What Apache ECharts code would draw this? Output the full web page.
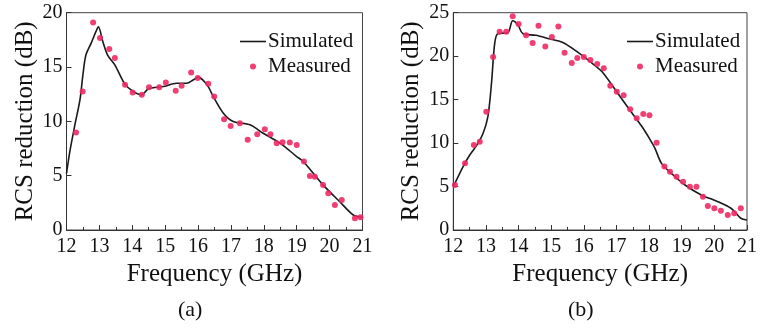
<!DOCTYPE html>
<html><head><meta charset="utf-8">
<script src="https://cdn.jsdelivr.net/npm/echarts@6/dist/echarts.min.js"></script>
<style>html,body{margin:0;padding:0;background:#fff}#c{width:760px;height:329px}</style>
</head><body><div id="c"></div>
<script>
// Panel (a)
const freqSimA = [12.0,12.1,12.25,12.41,12.5,12.59,12.75,12.9,12.97,13.1,13.25,13.47,13.78,14.03,14.29,14.49,14.94,15.35,15.65,15.85,16.0,16.15,16.31,16.46,16.77,17.07,17.58,17.98,18.49,19.0,19.2,19.8,20.31,20.72,21.0];
const simA     = [5.2,7.2,9.6,12.0,14.3,16.1,17.2,18.3,18.7,17.4,16.1,15.2,13.4,12.75,12.44,13.0,13.2,13.5,13.5,13.8,14.07,13.8,13.2,12.3,10.75,9.98,9.68,8.9,8.0,6.76,6.3,4.15,2.6,1.38,1.17];
const freqMeasA = [12.29,12.49,12.81,13.02,13.30,13.47,13.78,14.01,14.29,14.51,14.82,15.02,15.32,15.5,15.79,15.99,16.31,16.49,16.79,16.99,17.27,17.51,17.8,18.03,18.2,18.39,18.57,18.79,19.0,19.22,19.4,19.55,19.8,19.96,20.16,20.37,20.77,20.94];
const measA     = [8.97,12.75,19.1,17.67,16.65,15.82,13.36,12.66,12.44,13.15,13.15,13.58,12.81,13.27,14.5,14.0,13.46,12.29,10.2,9.58,9.83,8.3,8.82,9.28,8.82,7.99,8.08,8.05,7.83,6.3,4.98,4.9,4.15,3.38,2.3,2.76,1.08,1.17];
// Panel (b)
const freqSimB = [12.0,12.3,12.5,12.71,12.91,13.06,13.17,13.27,13.37,13.67,13.82,13.98,14.13,14.53,14.94,15.34,15.8,16.25,16.56,16.97,17.37,17.78,18.03,18.18,18.38,18.74,19.1,19.6,20.11,20.51,20.81,21.0];
const simB     = [4.98,7.3,8.6,9.7,11.1,13.04,16.88,21.5,22.6,22.7,24.07,23.6,22.6,22.4,22.0,21.6,20.5,19.2,18.2,16.1,14.0,11.9,10.4,9.4,7.67,6.33,5.18,4.03,3.26,2.5,1.35,1.15];
const freqMeasB = [12.05,12.36,12.63,12.81,13.01,13.22,13.42,13.62,13.82,14.0,14.23,14.43,14.61,14.82,15.02,15.22,15.41,15.63,15.8,16.0,16.2,16.41,16.61,16.81,17.01,17.22,17.42,17.62,17.82,18.01,18.23,18.47,18.64,18.84,19.04,19.25,19.45,19.65,19.8,20.0,20.2,20.41,20.61,20.81];
const measB     = [5.18,7.67,9.78,10.16,13.6,19.9,22.8,22.8,24.6,23.7,22.4,21.5,23.5,21.1,22.2,23.4,20.4,19.2,19.8,19.9,19.55,19.1,18.6,16.6,15.9,15.5,13.9,12.85,13.35,13.2,10.05,7.3,6.7,6.13,5.56,4.98,4.98,3.83,2.76,2.5,2.22,1.73,1.92,2.5];

const xTicks = [12,13,14,15,16,17,18,19,20,21];
const yMaxA = 20, yMaxB = 25;
const xTitle = 'Frequency (GHz)';
const yTitle = 'RCS reduction (dB)';
const panelLabels = ['(a)','(b)'];
const legendNames = ['Simulated','Measured'];

const FONT = "'Liberation Serif','Times New Roman',serif";
const pairs = (xs, ys) => xs.map((x,i)=>[x, ys[i]]);
const lineColor = '#1a1a1a', dotColor = '#ee2b64';
const LINE_ICON = 'path://M0,0L26,0L26,1.6L0,1.6Z';

function xAxis(idx){
  return {
    gridIndex: idx, type:'value', min:xTicks[0], max:xTicks[xTicks.length-1], interval:1,
    axisLine:{show:true, lineStyle:{color:'#333', width:1}},
    axisTick:{show:true, inside:true, length:5, lineStyle:{color:'#333'}},
    minorTick:{show:true, splitNumber:2, length:3, lineStyle:{color:'#333'}},
    splitLine:{show:false},
    axisLabel:{color:'#111', fontFamily:FONT, fontSize:20, margin:7},
    name:xTitle, nameLocation:'middle', nameGap:27,
    nameTextStyle:{color:'#111', fontFamily:FONT, fontSize:25, verticalAlign:'top'}
  };
}
function yAxis(idx, max){
  return {
    gridIndex: idx, type:'value', min:0, max:max, interval:5,
    axisLine:{show:true, lineStyle:{color:'#333', width:1}},
    axisTick:{show:true, inside:true, length:5, lineStyle:{color:'#333'}},
    minorTick:{show:false},
    splitLine:{show:false},
    axisLabel:{color:'#111', fontFamily:FONT, fontSize:20, margin:4},
    name:yTitle, nameLocation:'middle', nameGap:29,
    nameTextStyle:{color:'#111', fontFamily:FONT, fontSize:25}
  };
}
function legend(left, suffix){
  return {left:left, top:31, orient:'vertical', itemWidth:26, itemHeight:6, itemGap:4, padding:0,
    symbolKeepAspect:true,
    textStyle:{fontFamily:FONT, fontSize:21, color:'#111', padding:[0,0,0,-3]},
    data:[{name:legendNames[0]+suffix, icon:LINE_ICON}, {name:legendNames[1]+suffix, icon:'circle'}],
    formatter: n => n.replace(/ [AB]$/,'')};
}

const chart = echarts.init(document.getElementById('c'), null, {renderer:'canvas'});
chart.setOption({
  animation:false,
  backgroundColor:'#fff',
  title:[
    {text:panelLabels[0], left:173, top:294, textStyle:{fontFamily:FONT, fontSize:22, fontWeight:'normal', color:'#111'}},
    {text:panelLabels[1], left:563, top:294, textStyle:{fontFamily:FONT, fontSize:22, fontWeight:'normal', color:'#111'}}
  ],
  grid:[
    {left:66.5, top:12.7, width:296, height:217.3, show:true, borderColor:'#444', borderWidth:1, backgroundColor:'transparent'},
    {left:453.3, top:12.7, width:296, height:217.3, show:true, borderColor:'#444', borderWidth:1, backgroundColor:'transparent'}
  ],
  xAxis:[xAxis(0), xAxis(1)],
  yAxis:[yAxis(0,yMaxA), yAxis(1,yMaxB)],
  legend:[legend(240,' A'), legend(627,' B')],
  series:[
    {name:'Simulated A', type:'line', xAxisIndex:0, yAxisIndex:0, data:pairs(freqSimA,simA), symbol:'none', smooth:0.3,
     lineStyle:{color:lineColor, width:1.6}, itemStyle:{color:lineColor}, z:2},
    {name:'Measured A', type:'scatter', xAxisIndex:0, yAxisIndex:0, data:pairs(freqMeasA,measA), symbol:'circle', symbolSize:6,
     itemStyle:{color:dotColor, opacity:0.9}, z:3},
    {name:'Simulated B', type:'line', xAxisIndex:1, yAxisIndex:1, data:pairs(freqSimB,simB), symbol:'none', smooth:0.3,
     lineStyle:{color:lineColor, width:1.6}, itemStyle:{color:lineColor}, z:2},
    {name:'Measured B', type:'scatter', xAxisIndex:1, yAxisIndex:1, data:pairs(freqMeasB,measB), symbol:'circle', symbolSize:6,
     itemStyle:{color:dotColor, opacity:0.9}, z:3}
  ]
});
</script></body></html>
